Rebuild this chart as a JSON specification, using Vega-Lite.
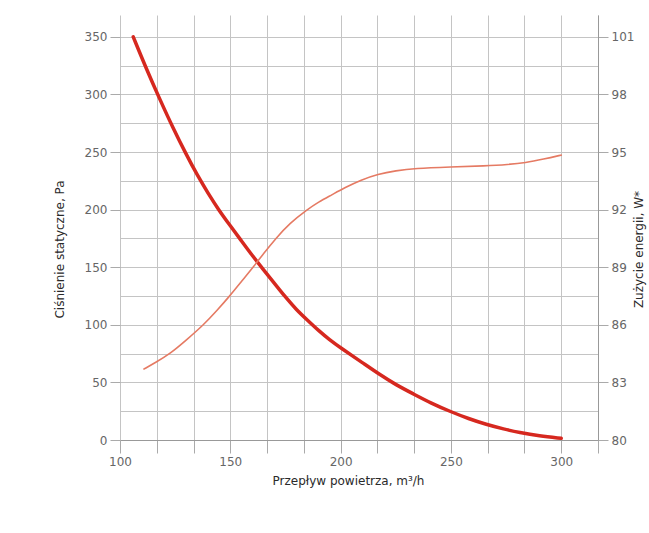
{
  "$schema": "https://vega.github.io/schema/vega-lite/v6.json",
  "width": 478,
  "height": 425,
  "autosize": {"type": "none"},
  "padding": {"left": 120, "top": 15, "right": 51, "bottom": 93},
  "background": "white",
  "config": {
    "font": "DejaVu Sans",
    "view": {"stroke": null},
    "axis": {
      "labelFont": "DejaVu Sans",
      "labelFontSize": 12,
      "labelColor": "#666666",
      "titleFont": "DejaVu Sans",
      "titleFontSize": 12,
      "titleFontWeight": "normal",
      "titleColor": "#2a2a2a",
      "gridColor": "#c4c4c4",
      "gridOpacity": 1,
      "tickColor": "#aaaaaa",
      "domainColor": "#999999",
      "labelOverlap": false,
      "labelFlush": false,
      "labelBound": false
    }
  },
  "datasets": {
    "pressure": [
      {"flow": 106, "pa": 350},
      {"flow": 112, "pa": 322},
      {"flow": 118, "pa": 296},
      {"flow": 124, "pa": 271},
      {"flow": 130, "pa": 248},
      {"flow": 135, "pa": 230},
      {"flow": 140, "pa": 214},
      {"flow": 145, "pa": 199},
      {"flow": 150, "pa": 186},
      {"flow": 155, "pa": 173},
      {"flow": 160, "pa": 160},
      {"flow": 165, "pa": 148},
      {"flow": 170, "pa": 136},
      {"flow": 175, "pa": 124},
      {"flow": 180, "pa": 113},
      {"flow": 185, "pa": 104},
      {"flow": 190, "pa": 95},
      {"flow": 195, "pa": 87},
      {"flow": 200, "pa": 80},
      {"flow": 210, "pa": 67},
      {"flow": 218, "pa": 56.5},
      {"flow": 225, "pa": 48},
      {"flow": 233, "pa": 40},
      {"flow": 241, "pa": 32},
      {"flow": 250, "pa": 24.5},
      {"flow": 258, "pa": 18.5},
      {"flow": 266, "pa": 13.5},
      {"flow": 274, "pa": 9.5},
      {"flow": 281, "pa": 6.5},
      {"flow": 290, "pa": 3.5},
      {"flow": 300, "pa": 1.5}
    ],
    "power": [
      {"flow": 110.6, "w": 83.68},
      {"flow": 116, "w": 84.03},
      {"flow": 122.8, "w": 84.5},
      {"flow": 130, "w": 85.2},
      {"flow": 137.9, "w": 86.0},
      {"flow": 144, "w": 86.75},
      {"flow": 150.1, "w": 87.55},
      {"flow": 155, "w": 88.25},
      {"flow": 160.7, "w": 89.05},
      {"flow": 165, "w": 89.7},
      {"flow": 170.6, "w": 90.5},
      {"flow": 177, "w": 91.3},
      {"flow": 184.8, "w": 92.0},
      {"flow": 190, "w": 92.4},
      {"flow": 195.7, "w": 92.75},
      {"flow": 202, "w": 93.15},
      {"flow": 209.3, "w": 93.55},
      {"flow": 216.9, "w": 93.85},
      {"flow": 225, "w": 94.03},
      {"flow": 233.6, "w": 94.15},
      {"flow": 250, "w": 94.22},
      {"flow": 265.5, "w": 94.28},
      {"flow": 276, "w": 94.35},
      {"flow": 283.7, "w": 94.44},
      {"flow": 292, "w": 94.63},
      {"flow": 300.3, "w": 94.85}
    ]
  },
  "layer": [
    {
      "data": {"name": "pressure"},
      "mark": {"type": "line", "interpolate": "basis", "color": "#d6281f", "strokeWidth": 3.5, "strokeCap": "round"},
      "encoding": {
        "x": {
          "field": "flow",
          "type": "quantitative",
          "scale": {"domain": [100, 316.667], "nice": false, "zero": false},
          "axis": {
            "title": "Przepływ powietrza, m³/h",
            "values": [100, 116.667, 133.333, 150, 166.667, 183.333, 200, 216.667, 233.333, 250, 266.667, 283.333, 300, 316.667],
            "labelExpr": "datum.value % 50 === 0 ? datum.label : ''",
            "tickSize": 13,
            "labelPadding": 3,
            "titlePadding": 8,
            "titleX": 228,
            "grid": true
          }
        },
        "y": {
          "field": "pa",
          "type": "quantitative",
          "scale": {"domain": [0, 369], "nice": false},
          "axis": {
            "title": "Ciśnienie statyczne, Pa",
            "values": [0, 25, 50, 75, 100, 125, 150, 175, 200, 225, 250, 275, 300, 325, 350],
            "labelExpr": "datum.value % 50 === 0 ? datum.label : ''",
            "tickSize": 10,
            "tickOpacity": {"condition": {"test": "datum.value % 50 === 0", "value": 1}, "value": 0},
            "labelPadding": 3,
            "titlePadding": 18,
            "titleY": 234,
            "domain": false,
            "grid": true
          }
        }
      }
    },
    {
      "data": {"name": "power"},
      "mark": {"type": "line", "interpolate": "basis", "color": "#e57a63", "strokeWidth": 1.6},
      "encoding": {
        "x": {
          "field": "flow",
          "type": "quantitative",
          "axis": {
            "title": "Przepływ powietrza, m³/h",
            "values": [100, 116.667, 133.333, 150, 166.667, 183.333, 200, 216.667, 233.333, 250, 266.667, 283.333, 300, 316.667],
            "labelExpr": "datum.value % 50 === 0 ? datum.label : ''",
            "tickSize": 13,
            "labelPadding": 3,
            "titlePadding": 8,
            "titleX": 228,
            "grid": true
          }
        },
        "y": {
          "field": "w",
          "type": "quantitative",
          "scale": {"domain": [80, 102.14], "nice": false, "zero": false},
          "axis": {
            "orient": "right",
            "title": "Zużycie energii, W*",
            "titleAngle": 270,
            "values": [80, 83, 86, 89, 92, 95, 98, 101],
            "tickSize": 10,
            "labelPadding": 3,
            "titlePadding": 12,
            "titleY": 234,
            "grid": false,
            "domain": true
          }
        }
      }
    }
  ],
  "resolve": {"scale": {"y": "independent"}}
}
